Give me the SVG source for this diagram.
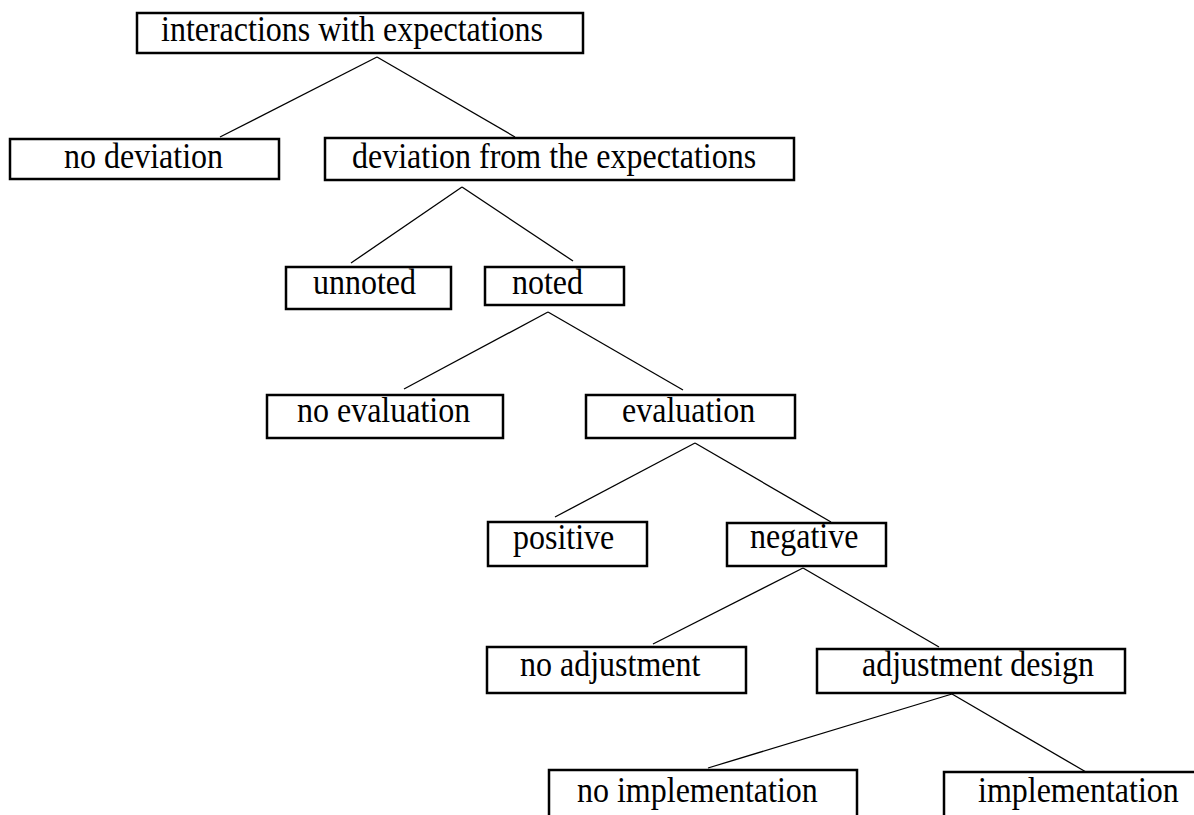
<svg xmlns="http://www.w3.org/2000/svg" width="1194" height="815" viewBox="0 0 1194 815">
<style>
.box{fill:#fff;stroke:#000;stroke-width:2.5}
.lbl{font-family:"Liberation Serif","Times New Roman",serif;font-size:32px;fill:#000}
.conn line{stroke:#000;stroke-width:1.3}
</style>
<rect width="1194" height="815" fill="#fff"/>
<g id="connectors" class="conn">
<line x1="377" y1="57" x2="220" y2="137"/>
<line x1="377" y1="57" x2="515" y2="137"/>
<line x1="462" y1="187" x2="351" y2="263"/>
<line x1="462" y1="187" x2="573" y2="261"/>
<line x1="548" y1="312" x2="404" y2="389"/>
<line x1="548" y1="312" x2="683" y2="390"/>
<line x1="695" y1="443" x2="555" y2="517"/>
<line x1="695" y1="443" x2="831" y2="522"/>
<line x1="803" y1="568" x2="653" y2="644"/>
<line x1="803" y1="568" x2="939" y2="647"/>
<line x1="952" y1="694" x2="708" y2="768"/>
<line x1="952" y1="694" x2="1086" y2="772"/>
</g>
<g id="n-interactions"><rect class="box" x="137" y="13" width="446" height="40"/><text class="lbl" transform="translate(161,41) scale(1,1.1)">interactions with expectations</text></g>
<g id="n-nodeviation"><rect class="box" x="10" y="139" width="269" height="40"/><text class="lbl" transform="translate(64,168) scale(1,1.1)">no deviation</text></g>
<g id="n-deviation"><rect class="box" x="325" y="138" width="469" height="42"/><text class="lbl" transform="translate(352,168) scale(1,1.1)">deviation from the expectations</text></g>
<g id="n-unnoted"><rect class="box" x="286" y="267" width="165" height="42"/><text class="lbl" transform="translate(313,294) scale(1,1.1)">unnoted</text></g>
<g id="n-noted"><rect class="box" x="485" y="267" width="139" height="38"/><text class="lbl" transform="translate(512,294) scale(1,1.1)">noted</text></g>
<g id="n-noevaluation"><rect class="box" x="267" y="395" width="236" height="43"/><text class="lbl" transform="translate(297,422) scale(1,1.1)">no evaluation</text></g>
<g id="n-evaluation"><rect class="box" x="586" y="395" width="209" height="43"/><text class="lbl" transform="translate(622,422) scale(1,1.1)">evaluation</text></g>
<g id="n-positive"><rect class="box" x="488" y="522" width="159" height="44"/><text class="lbl" transform="translate(513,549) scale(1,1.1)">positive</text></g>
<g id="n-negative"><rect class="box" x="727" y="523" width="159" height="43"/><text class="lbl" transform="translate(750,548) scale(1,1.1)">negative</text></g>
<g id="n-noadjustment"><rect class="box" x="487" y="647" width="259" height="46"/><text class="lbl" transform="translate(520,676) scale(1,1.1)">no adjustment</text></g>
<g id="n-adjustmentdesign"><rect class="box" x="817" y="649" width="308" height="44"/><text class="lbl" transform="translate(862,676) scale(1,1.1)">adjustment design</text></g>
<g id="n-noimplementation"><rect class="box" x="549" y="770" width="308" height="60"/><text class="lbl" transform="translate(577,802) scale(1,1.1)">no implementation</text></g>
<g id="n-implementation"><rect class="box" x="944" y="772" width="260" height="60"/><text class="lbl" transform="translate(978,802) scale(1,1.1)">implementation</text></g>
</svg>
